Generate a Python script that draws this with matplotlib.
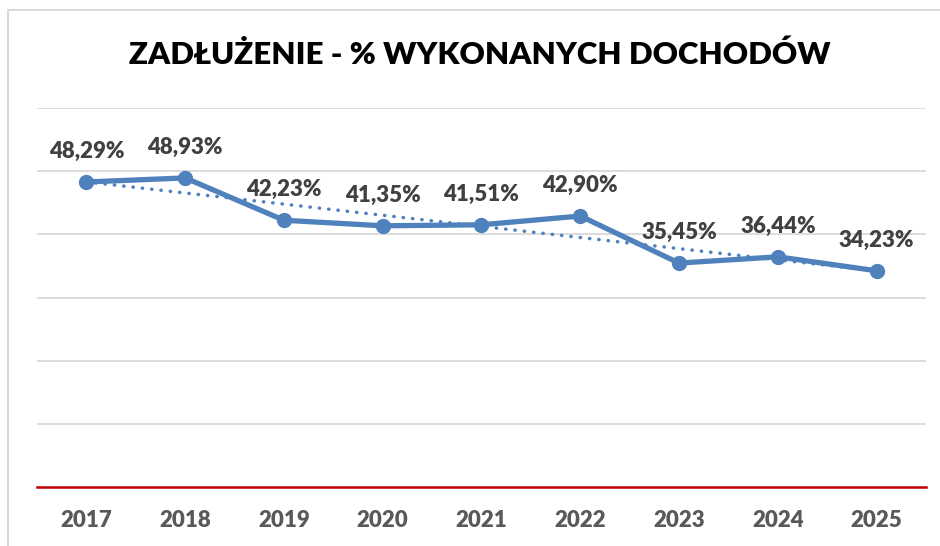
import matplotlib
matplotlib.use("Agg")
import matplotlib.pyplot as plt
import numpy as np
from matplotlib.patches import Rectangle

years = ["2017", "2018", "2019", "2020", "2021", "2022", "2023", "2024", "2025"]
values = [48.29, 48.93, 42.23, 41.35, 41.51, 42.90, 35.45, 36.44, 34.23]
labels = ["48,29%", "48,93%", "42,23%", "41,35%", "41,51%", "42,90%", "35,45%", "36,44%", "34,23%"]
title = "ZADŁUŻENIE - % WYKONANYCH DOCHODÓW"

plt.rcParams['font.family'] = ['Lato', 'DejaVu Sans']

W, H = 940, 546
fig = plt.figure(figsize=(W / 100, H / 100), dpi=100)
fig.patch.set_facecolor("white")

# outer chart border
fig.add_artist(Rectangle((8 / W, -0.2), 1.2, 1.2 - 10 / H, transform=fig.transFigure,
                         fill=False, edgecolor="#D9D9D9", linewidth=1.5))

ax = fig.add_axes([37 / W, 1 - 487 / H, (926 - 37) / W, (487 - 108) / H])
x = np.arange(len(years))
blue = "#4F81BD"

ax.set_xlim(-0.5, len(years) - 0.5)
ax.set_ylim(0, 60)
ax.set_yticks([10, 20, 30, 40, 50, 60])
ax.grid(axis="y", color="#D9D9D9", linewidth=1.3)
ax.set_axisbelow(True)
ax.axhline(0, color="#C00000", linewidth=1.8, zorder=3, clip_on=False)
for s in ax.spines.values():
    s.set_visible(False)
ax.tick_params(axis="y", left=False, labelleft=False)
ax.tick_params(axis="x", bottom=False, pad=13)
ax.set_xticks(x)
ax.set_xticklabels(years, fontsize=16, fontweight="heavy", color="#595959")

# linear trend
coef = np.polyfit(x, values, 1)
ax.plot(x, np.polyval(coef, x), linestyle=(0, (0.1, 2.6)), color=blue, linewidth=2.5,
        dash_capstyle="round", zorder=4)

ax.plot(x, values, color=blue, linewidth=3.8, marker="o", markersize=10, zorder=5,
        solid_joinstyle="round")

for xi, v, lab in zip(x, values, labels):
    ax.annotate(lab, (xi, v), xytext=(0, 22), textcoords="offset points",
                ha="center", va="center", fontsize=16, fontweight="heavy", color="#404040")

fig.text(480 / W, 1 - 55 / H, title, ha="center", va="center", fontsize=22.5,
         fontweight="heavy", color="black")

fig.savefig("out.png", dpi=100)
